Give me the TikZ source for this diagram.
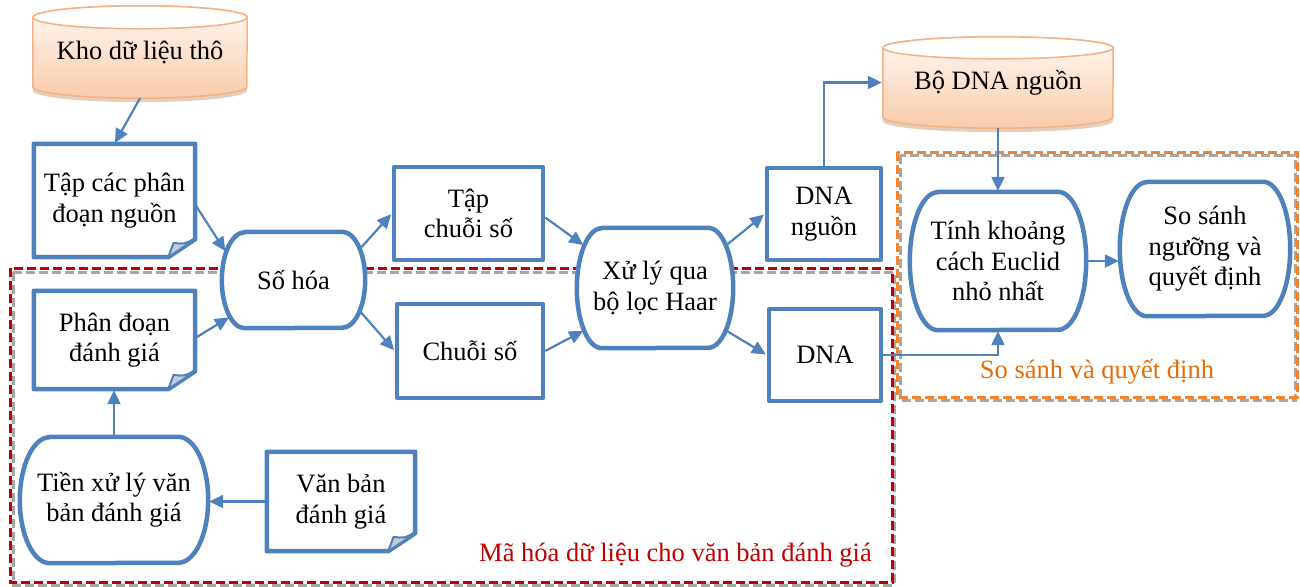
\documentclass[tikz,border=0pt]{standalone}
\usepackage{fontspec}
\setmainfont{Liberation Serif}
\usetikzlibrary{calc,arrows.meta}
\definecolor{blu}{HTML}{4F81BD}
\definecolor{redd}{HTML}{C00000}
\definecolor{orng}{HTML}{E46C0A}
\definecolor{orngdash}{HTML}{EE8434}
\definecolor{grayd}{HTML}{A6A6A6}
\definecolor{flapgray}{HTML}{C4CBD6}
\definecolor{cylline}{HTML}{F4B183}
\definecolor{cyltopc}{HTML}{FFF8F3}
\definecolor{cylbot}{HTML}{F9CBAA}
\definecolor{cylshad}{HTML}{D9BBA4}
\pgfdeclarelayer{back}
\pgfdeclarelayer{shp}
\pgfsetlayers{back,shp,main}
\newcommand\dgfont{\fontsize{26.5}{30.5}\selectfont}
\newcommand\docshape[1]{%
  \begin{pgfonlayer}{shp}
  \draw[shpline] (#1.north west) -- (#1.north east) -- ($(#1.south east)+(0,-18)$) -- ($(#1.south east)+(-27,0)$) -- (#1.south west) -- cycle;
  \filldraw[flap] ($(#1.south east)+(-27,0)$) -- ($(#1.south east)+(-21.6,-14.4)$) .. controls ($(#1.south east)+(-12,-13)$) .. ($(#1.south east)+(0,-18)$) -- cycle;
  \end{pgfonlayer}}
\newcommand\termshape[3]{%
  \begin{pgfonlayer}{shp}
  \draw[shpline] ($(#1.north west)+(#2,0)$) -- ($(#1.north east)+(-#2,0)$) arc[start angle=270,end angle=450,x radius=#2,y radius=#3] -- ($(#1.south west)+(#2,0)$) arc[start angle=90,end angle=270,x radius=#2,y radius=#3] -- cycle;
  \end{pgfonlayer}}
\newcommand\cylshape[3]{%
  \begin{pgfonlayer}{shp}
  \fill[cylshadow] ($(#1.north west)+(0,#3+4)$) -- ($(#1.south west)+(0,-#3+4)$) arc[start angle=180,end angle=0,x radius=#2,y radius=#3] -- ($(#1.north east)+(0,#3+4)$) -- cycle;
  \draw[cylbody] ($(#1.north west)+(0,#3)$) -- ($(#1.south west)+(0,-#3)$) arc[start angle=180,end angle=0,x radius=#2,y radius=#3] -- ($(#1.north east)+(0,#3)$) arc[start angle=0,end angle=-180,x radius=#2,y radius=#3] -- cycle;
  \draw[cyltop] ($(#1.north)+(0,#3)$) ellipse[x radius=#2,y radius=#3];
  \end{pgfonlayer}}
\begin{document}
\begin{tikzpicture}[x=1pt,y=-1pt,
  lbl/.style={font=\dgfont, align=center, inner sep=0pt},
  rbox/.style={lbl, draw=blu, line width=4.5pt, fill=white, line join=round},
  shpline/.style={draw=blu, line width=4.5pt, fill=white, line join=round},
  flap/.style={fill=flapgray, draw=blu, line width=2pt, line join=round},
  cylbody/.style={draw=cylline, line width=1.5pt, top color=cyltopc, bottom color=cylbot},
  cyltop/.style={draw=cylline, line width=1.5pt, fill=white},
  cylshadow/.style={fill=cylshad, opacity=0.7},
  conn/.style={draw=blu, line width=2.2pt, shorten >=1pt, -{Triangle[length=14pt,width=13pt]}},
  reddash/.style={draw=redd, line width=3pt, dash pattern=on 9pt off 4pt},
  orgdash/.style={draw=orngdash, line width=3pt, dash pattern=on 9pt off 4pt},
  graydash/.style={draw=grayd, line width=3pt, dash pattern=on 9pt off 4pt}]
\useasboundingbox (0,0) rectangle (1300,586);

\begin{pgfonlayer}{back}
\draw[graydash] (13,272) rectangle (894,585);
\draw[reddash] (10,268) rectangle (892,582);
\draw[graydash] (900,155) rectangle (1295,400);
\draw[orgdash] (897,152) rectangle (1297,397);
\end{pgfonlayer}

\node[lbl, minimum width=214pt, minimum height=92pt] (kho) at (140,52) {Kho dữ liệu thô};
\cylshape{kho}{107}{11.5}
\node[lbl, minimum width=161pt, minimum height=113pt] (tcp) at (114.5,200.5) {Tập các phân\\đoạn nguồn};
\docshape{tcp}
\node[lbl, minimum width=143pt, minimum height=96pt] (soh) at (293.5,280) {Số hóa};
\termshape{soh}{23}{48}
\node[lbl, minimum width=161pt, minimum height=98pt] (pd) at (114.5,340) {Phân đoạn\\đánh giá};
\docshape{pd}
\node[lbl, minimum width=188pt, minimum height=126pt] (tx) at (114,500) {Tiền xử lý văn\\bản đánh giá};
\termshape{tx}{30}{63}
\node[lbl, minimum width=148pt, minimum height=99pt] (vb) at (341,501.5) {Văn bản\\đánh giá};
\docshape{vb}
\node[rbox, minimum width=149pt, minimum height=93pt] (tcs) at (468.5,213.5) {Tập\\chuỗi số};
\node[rbox, minimum width=146pt, minimum height=94pt] (cs) at (470,351) {Chuỗi số};
\node[lbl, minimum width=156pt, minimum height=120pt] (xl) at (655,288) {Xử lý qua\\bộ lọc Haar};
\termshape{xl}{25}{60}
\node[rbox, minimum width=114pt, minimum height=92pt] (dnan) at (824,214) {DNA\\nguồn};
\node[rbox, minimum width=112pt, minimum height=92pt] (dna) at (825,355) {DNA};
\node[lbl, minimum width=230pt, minimum height=91pt] (bdna) at (998,82.5) {Bộ DNA nguồn};
\cylshape{bdna}{115}{11}
\node[lbl, minimum width=176pt, minimum height=138pt] (tinh) at (998,261) {Tính khoảng\\cách Euclid\\nhỏ nhất};
\termshape{tinh}{28}{69}
\node[lbl, minimum width=170pt, minimum height=134pt] (ss) at (1205,249) {So sánh\\ngưỡng và\\quyết định};
\termshape{ss}{27}{67}

\node[lbl, text=redd, anchor=east] (lblred) at (872,555) {Mã hóa dữ liệu cho văn bản đánh giá};
\node[lbl, text=orng] (lblorg) at (1097,372) {So sánh và quyết định};

\draw[conn] (kho.south) -- (tcp.north);
\draw[conn] ($(tcp.east)+(0,4)$) -- ($(soh.west)+(4,-28)$);
\draw[conn] ($(pd.east)+(0,-2)$) -- ($(soh.west)+(8,37)$);
\draw[conn] ($(soh.east)+(-5.4,-31)$) -- (tcs.west);
\draw[conn] ($(soh.east)+(-5.4,31)$) -- (cs.west);
\draw[conn] ($(tcs.east)+(0,4)$) -- ($(xl.west)+(7.3,-42.4)$);
\draw[conn] (cs.east) -- ($(xl.west)+(7.3,42.4)$);
\draw[conn] ($(xl.east)+(-7.3,-42.4)$) -- (dnan.west);
\draw[conn] ($(xl.east)+(-7.3,42.4)$) -- (dna.west);
\draw[conn] (dnan.north) |- (bdna.west);
\draw[conn] (bdna.south) -- (tinh.north);
\draw[conn] (dna.east) -| (tinh.south);
\draw[conn] (tinh.east) -- (tinh.east -| ss.west);
\draw[conn] (vb.west) -- (vb.west -| tx.east);
\draw[conn] (tx.north) -- (tx.north |- pd.south);
\end{tikzpicture}
\end{document}
